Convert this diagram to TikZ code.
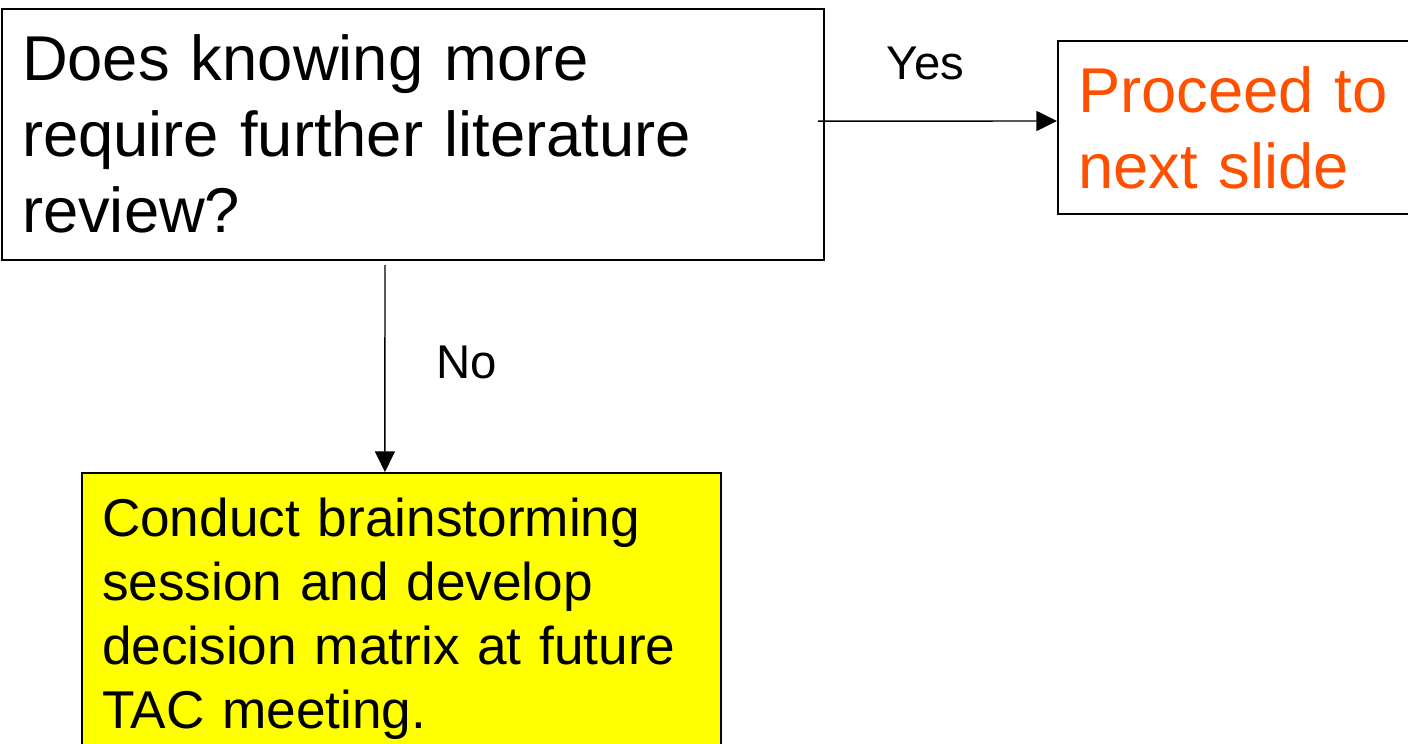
\documentclass[tikz,border=0pt]{standalone}
\usepackage{fontspec}
\setmainfont{Liberation Sans}
\usetikzlibrary{arrows.meta}
\definecolor{proceed}{RGB}{255,80,0}
\definecolor{note}{RGB}{255,255,0}
\tikzset{every picture/.style={line width=0.75pt}}

\begin{document}
\begin{tikzpicture}[x=0.75pt,y=0.75pt,yscale=-1,xscale=1,
	box/.style={draw=black,line width=1.5pt,rectangle,anchor=north west,align=left,inner xsep=15pt,inner ysep=0pt},
	bigtext/.style={font=\fontsize{47.5}{57}\selectfont},
	arr/.style={line width=1.1pt,-{Triangle[length=15.5pt,width=15pt]}},
	lbl/.style={inner sep=0pt,font=\fontsize{35.5}{42}\selectfont}]
	\useasboundingbox (0,0) rectangle (1408,743);

	%Shape: Rectangle [id:question]
	\node [box,bigtext,text width=586.7pt,minimum height=188pt] (ask) at (1,8) {Does knowing more\\require further literature\\review?};
	%Shape: Rectangle [id:proceed]
	\node [box,bigtext,text=proceed,text width=300pt,minimum height=130.1pt] (next) at (1057,40) {Proceed to\\next slide};
	%Shape: Rectangle [id:brainstorm]
	\node [box,fill=note,font=\fontsize{39.9}{48}\selectfont,text width=449.6pt,minimum height=218.3pt] (brain) at (81,472) {Conduct brainstorming\\session and develop\\decision matrix at future\\TAC meeting.};

	%Straight Lines [id:yes]
	\draw [arr] ([xshift=-5.5pt,yshift=-9.94pt]ask.east) -- ([yshift=-5.06pt]next.west) ;
	%Straight Lines [id:no]
	\draw [arr] ([xshift=-21.1pt,yshift=3.4pt]ask.south) -- ([xshift=-12.6pt]brain.north) ;

	% Text Node
	\node [lbl] (yeslbl) at (925.5,63.5) {Yes};
	% Text Node
	\node [lbl] (nolbl) at (466.5,362) {No};
\end{tikzpicture}
\end{document}
